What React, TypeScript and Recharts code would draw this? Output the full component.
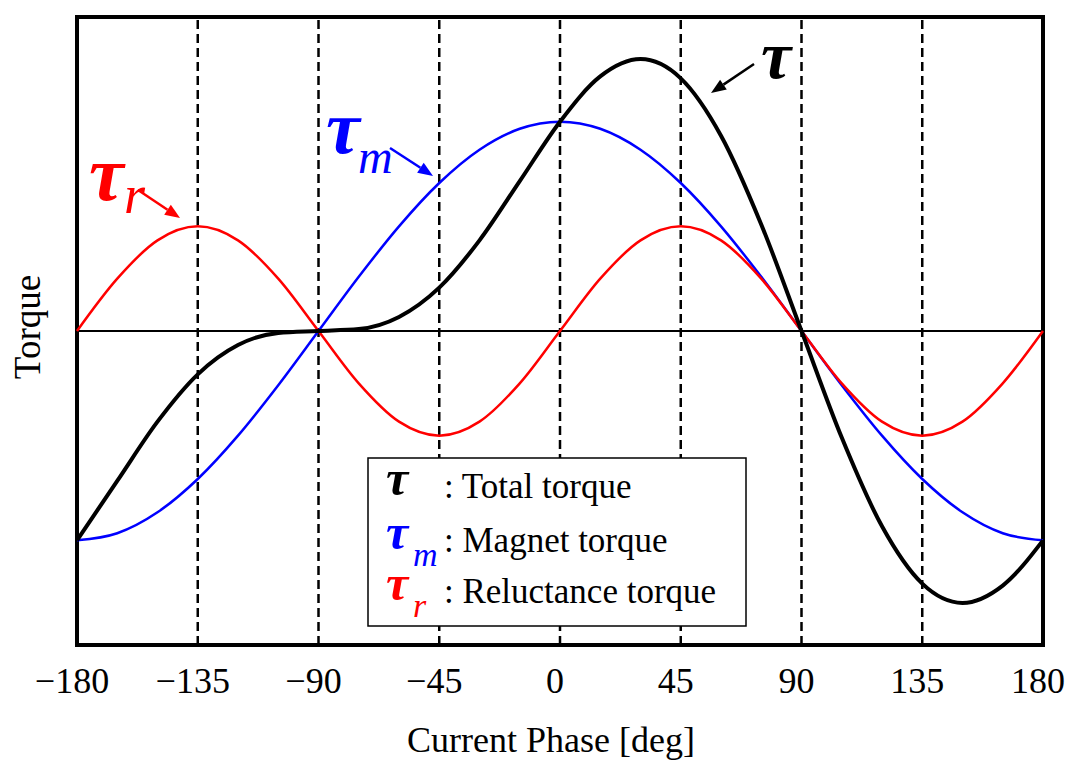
import { Line, LineChart, ReferenceArea, ReferenceLine, XAxis, YAxis } from "recharts";

const FONT = "'Liberation Serif', 'Times New Roman', serif";

// current phase [deg], sampled every 15 deg
const phase = [
  -180, -165, -150, -135, -120, -105, -90, -75, -60, -45, -30, -15, 0, 15, 30, 45, 60, 75, 90, 105, 120,
  135, 150, 165, 180,
];
const magnetTorque = [
  -1, -0.966, -0.866, -0.707, -0.5, -0.259, 0, 0.259, 0.5, 0.707, 0.866, 0.966, 1, 0.966, 0.866, 0.707,
  0.5, 0.259, 0, -0.259, -0.5, -0.707, -0.866, -0.966, -1,
];
const reluctanceTorque = [
  0, 0.25, 0.433, 0.5, 0.433, 0.25, 0, -0.25, -0.433, -0.5, -0.433, -0.25, 0, 0.25, 0.433, 0.5, 0.433,
  0.25, 0, -0.25, -0.433, -0.5, -0.433, -0.25, 0,
];
const totalTorque = [
  -1, -0.716, -0.433, -0.207, -0.067, -0.009, 0, 0.009, 0.067, 0.207, 0.433, 0.716, 1, 1.216, 1.299,
  1.207, 0.933, 0.509, 0, -0.509, -0.933, -1.207, -1.299, -1.216, -1,
];
const xTicks = [-180, -135, -90, -45, 0, 45, 90, 135, 180];
const guidePhases = [-135, -90, -45, 0, 45, 90, 135];

const data = phase.map((p, i) => ({
  phase: p,
  magnet: magnetTorque[i],
  reluctance: reluctanceTorque[i],
  total: totalTorque[i],
}));

function PhaseTick(props: any) {
  const { x, y, payload } = props;
  const v = payload.value as number;
  const label = v < 0 ? "\u2212" + Math.abs(v) : String(v);
  return (
    <text x={x - 5} y={y} textAnchor="middle" fontFamily={FONT} fontSize={36} fill="#000">
      {label}
    </text>
  );
}

function Arrow({ x1, y1, x2, y2, color }: { x1: number; y1: number; x2: number; y2: number; color: string }) {
  const a = Math.atan2(y2 - y1, x2 - x1);
  const len = 15;
  const w = 6;
  const bx = x2 - len * Math.cos(a);
  const by = y2 - len * Math.sin(a);
  const px = -Math.sin(a) * w;
  const py = Math.cos(a) * w;
  return (
    <g>
      <line x1={x1} y1={y1} x2={bx} y2={by} stroke={color} strokeWidth={2.5} />
      <polygon points={`${x2},${y2} ${bx + px},${by + py} ${bx - px},${by - py}`} fill={color} />
    </g>
  );
}

function Tau({ x, y, sub, subX, subY, color, size, subSize }: any) {
  return (
    <g fill={color}>
      <text x={x} y={y} fontSize={size} fontFamily={FONT} fontStyle="italic" fontWeight="bold">
        τ
      </text>
      {sub && (
        <text x={subX} y={subY} fontSize={subSize} fontFamily={FONT} fontStyle="italic">
          {sub}
        </text>
      )}
    </g>
  );
}

const legendRows = [
  { color: "#000", sub: "", text: ": Total torque", y: 40 },
  { color: "#0000ff", sub: "m", text: ": Magnet torque", y: 94 },
  { color: "#ff0000", sub: "r", text: ": Reluctance torque", y: 145 },
];

function LegendBox({ x, y }: { x: number; y: number }) {
  return (
    <g transform={`translate(${x} ${y})`}>
      <rect x={0} y={0} width={378} height={168} fill="#fff" stroke="#000" strokeWidth={1.5} />
      {legendRows.map((r) => (
        <g key={r.text}>
          <Tau x={18} y={r.y - 3} sub={r.sub} subX={45} subY={r.y + 14} color={r.color} size={50} subSize={34} />
          <text x={76} y={r.y} fontFamily={FONT} fontSize={35} fill="#000">
            {r.text}
          </text>
        </g>
      ))}
    </g>
  );
}

export default function App() {
  return (
    <div style={{ position: "absolute", left: 0, top: 0, width: 1075, height: 761, background: "#fff" }}>
      <LineChart width={1075} height={761} data={data} margin={{ top: 17, right: 32, left: 77, bottom: 56 }}>
        <XAxis
          type="number"
          dataKey="phase"
          domain={[-180, 180]}
          ticks={xTicks}
          axisLine={false}
          tickLine={false}
          tickSize={0}
          tickMargin={48}
          height={60}
          tick={<PhaseTick />}
          interval={0}
        />
        <YAxis hide type="number" domain={[-1.5, 1.5]} />
        {guidePhases.map((p) => (
          <ReferenceLine key={p} x={p} stroke="#000" strokeWidth={2.5} strokeDasharray="9 5" />
        ))}
        <ReferenceLine y={0} stroke="#000" strokeWidth={2} />
        <Line type="monotone" dataKey="magnet" stroke="#0000ff" strokeWidth={2.5} dot={false} isAnimationActive={false} />
        <Line type="monotone" dataKey="reluctance" stroke="#ff0000" strokeWidth={2.5} dot={false} isAnimationActive={false} />
        <Line type="monotone" dataKey="total" stroke="#000" strokeWidth={4} dot={false} isAnimationActive={false} />
        <ReferenceArea x1={-180} x2={180} y1={-1.5} y2={1.5} fill="none" stroke="#000" strokeWidth={4} ifOverflow="visible" />
      </LineChart>
      <svg width={1075} height={761} style={{ position: "absolute", left: 0, top: 0, pointerEvents: "none" }}>
        <text
          x={27}
          y={327}
          transform="rotate(-90 27 327)"
          textAnchor="middle"
          dominantBaseline="central"
          fontFamily={FONT}
          fontSize={37}
          fill="#000"
        >
          Torque
        </text>
        <text x={551} y={752} textAnchor="middle" fontFamily={FONT} fontSize={36} fill="#000">
          Current Phase [deg]
        </text>
        <LegendBox x={368} y={458} />
        <Tau x={89} y={200} sub="r" subX={124} subY={213} color="#ff0000" size={78} subSize={54} />
        <Arrow x1={138} y1={190} x2={180} y2={218} color="#ff0000" />
        <Tau x={326} y={153} sub="m" subX={358} subY={173} color="#0000ff" size={76} subSize={48} />
        <Arrow x1={390} y1={148} x2={433} y2={176} color="#0000ff" />
        <Tau x={761} y={78} color="#000" size={68} />
        <Arrow x1={754} y1={64} x2={711} y2={93} color="#000" />
      </svg>
    </div>
  );
}
